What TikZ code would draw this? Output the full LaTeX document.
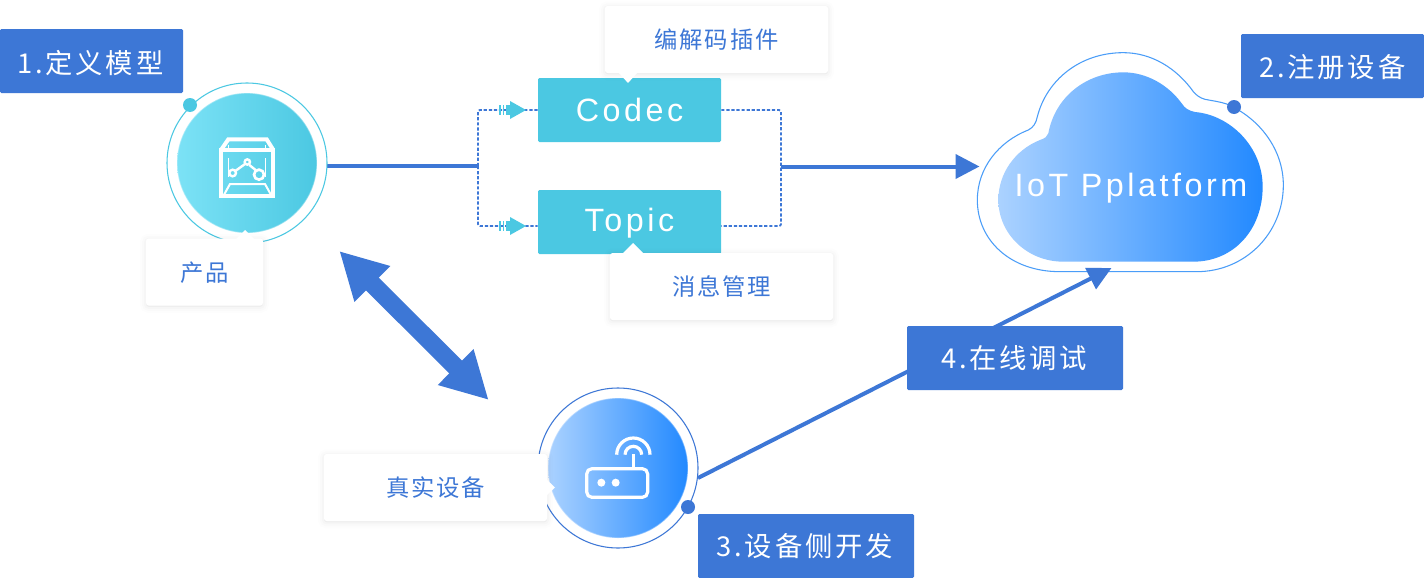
\documentclass[tikz,border=0pt]{standalone}
\usepackage{fontspec}
\usetikzlibrary{arrows.meta,calc}
\newfontfamily\lblfont[LetterSpace=10]{Noto Sans CJK SC}
\newfontfamily\callfont[LetterSpace=8]{Noto Sans CJK SC}
\newfontfamily\latfont[LetterSpace=11]{Liberation Sans}
\definecolor{mainblue}{HTML}{3D77D6}
\definecolor{aqua}{HTML}{4BC8E2}
\definecolor{aqualight}{HTML}{7CE2F6}
\definecolor{skyl}{HTML}{ABD2FF}
\definecolor{skyr}{HTML}{2289FF}
\definecolor{cloudline}{HTML}{4A9DF8}
\definecolor{calltext}{HTML}{3D77D6}
\newcommand{\dropt}[2]{\raisebox{-#1}[0pt][0pt]{#2}}
\tikzset{
  stepbox/.style={rectangle,rounded corners=1pt,fill=mainblue,text=white,inner sep=0pt,
     minimum width=#1*0.75pt,minimum height=48pt,font=\lblfont\fontsize{20.5}{24}\selectfont},
  aquabox/.style={rectangle,rounded corners=1pt,fill=aqua,text=white,inner sep=0pt,
     minimum width=137.25pt,minimum height=48pt,font=\latfont\fontsize{24.2}{28}\selectfont},
  softshadow/.style={preaction={draw=black,draw opacity=.006,line width=9pt,transform canvas={yshift=-1pt}},
     preaction={draw=black,draw opacity=.01,line width=6pt,transform canvas={yshift=-1pt}},
     preaction={draw=black,draw opacity=.014,line width=3pt,transform canvas={yshift=-1pt}},
     preaction={fill=black,fill opacity=.03,transform canvas={yshift=-1pt}}},
  callbox/.style={rectangle,rounded corners=2pt,fill=white,softshadow,text=calltext,inner sep=0pt,
     minimum height=50.25pt,minimum width=#1*0.75pt,font=\callfont\fontsize{17.5}{21}\selectfont},
  pointer/.style={fill=white,draw=none},
  ring/.style={circle,draw=#1,line width=0.8pt,fill=white,inner sep=0pt,minimum size=120pt},
  ball/.style 2 args={circle,left color=#1,right color=#2,inner sep=0pt,minimum size=105pt,draw=white,draw opacity=.35,line width=1pt},
  knob/.style={circle,fill=#1,inner sep=0pt,minimum size=10.5pt},
  dashline/.style={draw=mainblue,line width=1.35pt,dash pattern=on 2.4pt off 1.4pt,rounded corners=1.5pt},
  boldline/.style={draw=mainblue,line width=3pt},
  iconline/.style={draw=white,line cap=butt,line join=miter},
}
\newcommand{\flowmark}[2]{%
  \fill[aqua] (#1-27,#2-5) rectangle (#1-25.5,#2+5);
  \fill[aqua] (#1-23.5,#2-5) rectangle (#1-22,#2+5);
  \fill[aqua] (#1-20.5,#2-5) rectangle (#1-16,#2+5);
  \fill[aqua] (#1-16,#2-9) -- (#1,#2) -- (#1-16,#2+9) -- cycle;
}
\begin{document}
\begin{tikzpicture}[x=0.75pt,y=-0.75pt]
\useasboundingbox (0,0) rectangle (1424,578);
\fill[white] (0,0) rectangle (1424,578);

% coordinates of connector ends
\coordinate (pe) at (327,166);
\coordinate (jl) at (478,166);
\coordinate (jr) at (781,166.5);
\coordinate (cloudin) at (979.5,166.5);
\coordinate (da) at (339.3,251);
\coordinate (db) at (488.7,400);
\coordinate (re) at (698,478);
\coordinate (cloudout) at (1111.5,268);

% connectors under the boxes
\node[aquabox] (codec) at (629.5,110) {\dropt{8.25pt}{Codec}};
\node[aquabox] (topic) at (629.5,222) {\dropt{7.3pt}{Topic}};
\draw[boldline] (pe) -- (jl);
\draw[dashline] (jl) |- (codec.west);
\draw[dashline] (jl) |- (topic.west |- 0,226);
\draw[dashline] (codec.east) -| (jr) |- (topic.east |- 0,226);
\draw[boldline,-{Triangle[length=18pt,width=18pt]}] (jr) -- (cloudin);
\flowmark{526}{110}
\flowmark{526}{226}

% product circle
\node[ring=aqua] (prodring) at (247,163) {};
\node[ball={aqualight}{aqua}] (prodball) at (247,163) {};
\node[knob=aqua] (prodknob) at (190,105) {};
\begin{scope}[shift={(140,70)},x=0.25pt,y=-0.25pt]
  \draw[iconline,line width=3pt] (243,378) rectangle (400,240);
  \draw[iconline,line width=3pt] (243,240) -- (265,208) -- (380,208) -- (400,240);
  \draw[iconline,line width=1.5pt] (250,378) -- (270,342) -- (375,342) -- (395,378);
  \draw[iconline,line width=.7pt] (265,224) -- (265,238) (376,224) -- (376,238)
        (265,265) -- (265,322) (376,265) -- (376,322);
  \draw[iconline,line width=1.8pt] (286,303) -- (315,282) (328,285) -- (348,301);
  \draw[iconline,line width=1.8pt] (278,309) circle[radius=10];
  \draw[iconline,line width=1.8pt] (322,276) circle[radius=8];
  \draw[iconline,line width=2pt] (357,314) circle[radius=15];
\end{scope}

% cloud
\begin{scope}[shift={(960,40)},x=0.25pt,y=-0.25pt]
  \draw[cloudline,line width=.8pt] (300,695) -- (710,695)
     .. controls (855,695) and (970,580) .. (970,435)
     .. controls (970,330) and (900,235) .. (800,192)
     .. controls (780,185) and (755,182) .. (735,178)
     .. controls (720,174) and (708,165) .. (700,155)
     .. controls (650,85) and (575,38) .. (490,38)
     .. controls (360,38) and (260,120) .. (232,230)
     .. controls (228,250) and (220,262) .. (205,270)
     .. controls (115,305) and (52,385) .. (52,480)
     .. controls (52,600) and (150,695) .. (300,695) -- cycle;
  \shade[left color=skyl,right color=skyr] (310,665) -- (700,665)
     .. controls (820,665) and (908,570) .. (908,440)
     .. controls (908,320) and (810,225) .. (705,216)
     .. controls (685,212) and (675,205) .. (665,190)
     .. controls (625,135) and (560,97) .. (490,97)
     .. controls (380,97) and (285,170) .. (265,280)
     .. controls (262,290) and (255,295) .. (240,300)
     .. controls (165,330) and (115,400) .. (115,480)
     .. controls (115,580) and (200,665) .. (310,665) -- cycle;
\end{scope}
\node[text=white,inner sep=0pt,font=\latfont\fontsize{24.2}{28}\selectfont] (cloudtext) at (1131,186) {\dropt{8pt}{IoT Pplatform}};
\node[knob=mainblue] (cloudknob) at (1234,107) {};

% device circle
\node[ring=mainblue] (devring) at (618,468) {};
\node[ball={skyl}{skyr}] (devball) at (618,468) {};
\node[knob=mainblue] (devknob) at (688,507) {};
\begin{scope}[shift={(520,380)},x=0.25pt,y=-0.25pt]
  \draw[white,line width=2.4pt,rounded corners=4pt] (200,266) rectangle (383,352);
  \fill[white] (244,308) circle[radius=12] (287,308) circle[radius=12];
  \draw[white,line width=2.4pt] (340,266) -- (340,222);
  \draw[white,line width=2.4pt] (290,224) arc[start angle=180,end angle=360,radius=50];
  \draw[white,line width=2.4pt] (315,224) arc[start angle=180,end angle=360,radius=25];
\end{scope}

% long connectors
\draw[boldline,-{Triangle[length=17.6pt,width=17.3pt]}] (re) -- (cloudout);
\draw[draw=mainblue,line width=13.5pt,{Triangle[length=35pt,width=35.3pt]}-{Triangle[length=35pt,width=35.3pt]}] (da) -- (db);

% callouts
\node[callbox=223] (codecnote) at (716.5,39.5) {\dropt{7pt}{编解码插件}};
\fill[pointer] (618,72) -- (628,83) -- (638,72) -- cycle;
\node[callbox=223] (topicnote) at (721.5,286.5) {\dropt{7pt}{消息管理}};
\fill[pointer] (622,254) -- (633,243) -- (644,254) -- cycle;
\node[callbox=117] (prodnote) at (204.5,272) {\dropt{7.4pt}{产品}};
\fill[pointer] (236,239) -- (245,230) -- (254,239) -- cycle;
\node[callbox=223] (devnote) at (435.5,487.5) {\dropt{6.65pt}{真实设备}};
\fill[pointer] (546,479) -- (555,487.5) -- (546,496) -- cycle;

% step labels
\node[stepbox=183] (s1) at (91.5,61) {\dropt{9.3pt}{\kern-1.5pt 1.定义模型}};
\node[stepbox=183] (s2) at (1332.5,66) {\dropt{8.6pt}{2.注册设备}};
\node[stepbox=216] (s3) at (806,546) {\dropt{7.8pt}{\kern-2pt 3.设备侧开发}};
\node[stepbox=216] (s4) at (1015,358) {\dropt{7.8pt}{\kern-1.5pt 4.在线调试}};
\end{tikzpicture}
\end{document}
